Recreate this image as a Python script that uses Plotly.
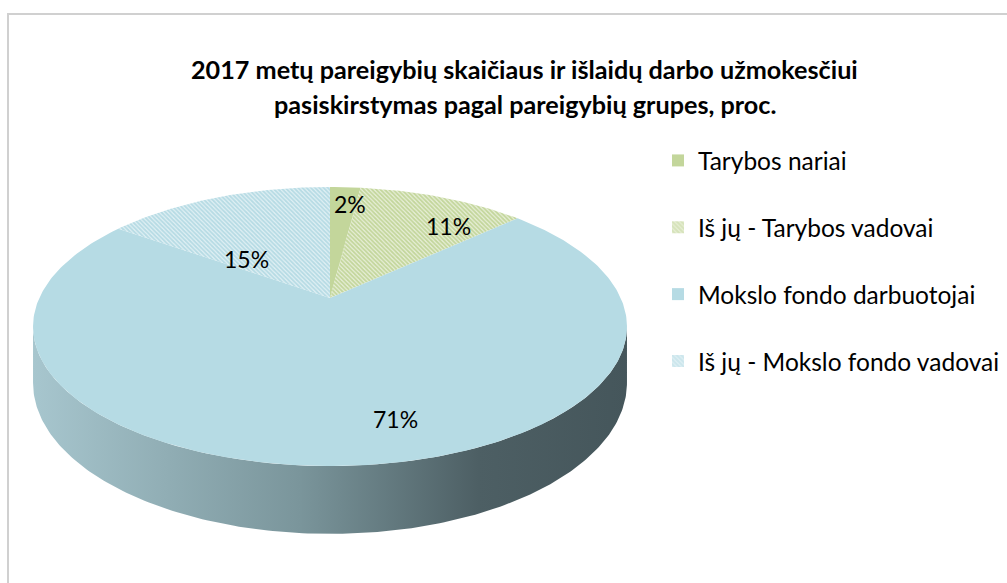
import numpy as np
import plotly.graph_objects as go

# ---------------- data ----------------
categories = ["Tarybos nariai", "Iš jų - Tarybos vadovai",
              "Mokslo fondo darbuotojai", "Iš jų - Mokslo fondo vadovai"]
values = [2, 11, 71, 15]
title_lines = ["2017 metų pareigybių skaičiaus ir išlaidų darbo užmokesčiui",
               "pasiskirstymas pagal pareigybių grupes, proc."]

# ---------------- style ----------------
colors = ["#c3d69b", "#c3d69b", "#b6dbe4", "#b6dbe4"]
hatch_bg = ["#ffffff", "#e9f0da", "#ffffff", "#e2f1f5"]
hatched = [False, True, False, True]
label_adjust = [(2.0, 0.825), (9.9, 0.76), (-10.4, 0.787), (-17.4, 0.437)]  # (deg shift, radius)
FONT = "Lato"

W, H = 1007, 583
CX, CY = 330, 298          # pie centre on screen
A, B, P = 290.7, 133.7, 0.2044   # perspective ellipse parameters
D0 = 54                    # pie thickness


def proj(u, v):
    w = 1 + P * v
    return CX + A * u / w, CY - B * v / w


def depth(v):
    return D0 / (1 + P * v)


vals = np.array(values, dtype=float)
frac = vals / vals.sum()
edges = np.concatenate([[0], np.cumsum(frac)]) * 2 * np.pi

fig = go.Figure()

# ---- side wall (front, visible part) ----
tR = np.arccos(-P)
tL = 2 * np.pi - tR
ts = np.linspace(tR, tL, 200)
u, v = np.sin(ts), np.cos(ts)
xt, yt = proj(u, v)
yb = yt + depth(v)
side_x = np.concatenate([xt, xt[::-1]])
side_y = np.concatenate([yt, yb[::-1]])
fig.add_trace(go.Scatter(
    x=side_x, y=side_y, mode="lines", fill="toself",
    line=dict(width=0, color="rgba(0,0,0,0)"),
    fillcolor="#6f8a90",
    fillgradient=dict(type="horizontal",
                      colorscale=[[0, "#a7c6ce"], [0.45, "#7a959b"],
                                  [0.75, "#4d5f64"], [1, "#45565b"]]),
    showlegend=False, hoverinfo="skip"))

# ---- top face slices ----
for i, cat in enumerate(categories):
    t0, t1 = edges[i], edges[i + 1]
    n = max(4, int((t1 - t0) / (2 * np.pi) * 400))
    tt = np.linspace(t0, t1, n)
    px, py = proj(np.sin(tt), np.cos(tt))
    xs = np.concatenate([[CX], px, [CX]])
    ys = np.concatenate([[CY], py, [CY]])
    kw = {}
    if hatched[i]:
        kw["fillpattern"] = dict(shape="\\", fgcolor=colors[i], bgcolor=hatch_bg[i],
                                 size=3, solidity=0.6, fillmode="replace")
    fig.add_trace(go.Scatter(
        x=xs, y=ys, mode="lines", fill="toself",
        line=dict(width=0, color="rgba(0,0,0,0)"),
        fillcolor=colors[i], showlegend=False, hoverinfo="skip", **kw))

# ---- legend proxies ----
for i, cat in enumerate(categories):
    pat = dict(shape="\\" if hatched[i] else "", fgcolor=colors[i],
               bgcolor=hatch_bg[i], size=4, solidity=0.7)
    fig.add_trace(go.Bar(x=[None], y=[None], name=cat, legendgroup=f"g{i}",
                         marker=dict(color=colors[i], pattern=pat,
                                     line=dict(width=0))))

# ---- data labels ----
for i in range(len(values)):
    mid = (edges[i] + edges[i + 1]) / 2 + np.deg2rad(label_adjust[i][0])
    r = label_adjust[i][1]
    lx, ly = proj(r * np.sin(mid), r * np.cos(mid))
    fig.add_annotation(x=lx, y=ly, text=f"{values[i]}%", showarrow=False,
                       font=dict(family=FONT, size=23, color="#000000"))

# ---- title ----
for k, line in enumerate(title_lines):
    fig.add_annotation(x=524.5 / W, y=1 - (52 + 35 * k) / H, xref="paper", yref="paper",
                       text=f"<b>{line}</b>", showarrow=False,
                       font=dict(family=FONT, size=25.2, color="#000000"))

# ---- chart frame ----
fig.add_shape(type="rect", x0=8, y0=14, x1=W + 20, y1=H + 20,
              line=dict(color="#d0d0d0", width=2), layer="below")

fig.update_layout(
    width=W, height=H, margin=dict(l=0, r=0, t=0, b=0),
    paper_bgcolor="white", plot_bgcolor="white",
    xaxis=dict(range=[0, W], visible=False, fixedrange=True),
    yaxis=dict(range=[H, 0], visible=False, fixedrange=True),
    showlegend=True,
    legend=dict(x=658 / W, y=1 - 138 / H, xanchor="left", yanchor="top",
                traceorder="grouped", tracegroupgap=32,
                font=dict(family=FONT, size=24.5, color="#000000"),
                bgcolor="rgba(0,0,0,0)"),
    font=dict(family=FONT),
)

fig.write_html("out.html")
